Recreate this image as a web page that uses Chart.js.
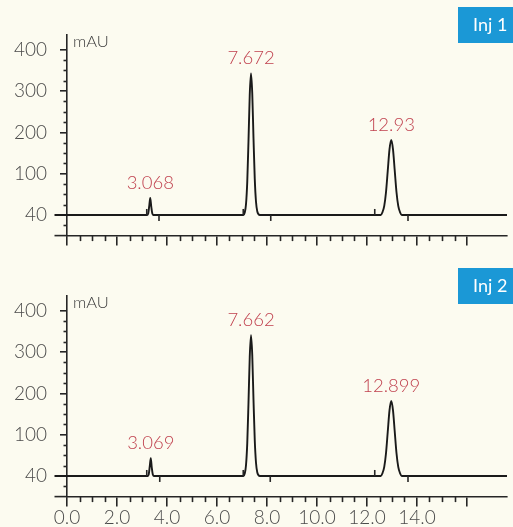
<!DOCTYPE html>
<html><head><meta charset="utf-8">
<script src="https://cdn.jsdelivr.net/npm/chart.js@4"></script>
<style>
html,body{margin:0;padding:0;background:#fcfbf0;width:513px;height:527px;overflow:hidden}
canvas{position:absolute;left:0}
</style></head><body>
<canvas id="c1" width="513" height="261" style="top:0"></canvas>
<canvas id="c2" width="513" height="266" style="top:261px"></canvas>
<script>
// ---- data ----
const xTickValues = [0, 2, 4, 6, 8, 10, 12, 14, 16];
const xTickLabels = ['0.0', '2.0', '4.0', '6.0', '8.0', '10.0', '12.0', '14.0', ''];
const yTickValues = [0, 100, 200, 300, 400];
const yTickLabels = ['40', '100', '200', '300', '400'];

// Injection 1 trace (time, min ; signal, mAU above baseline)
const inj1Time = [-0.5, 3.21, 3.25, 3.29, 3.33, 3.37, 3.41, 3.45,
  7.06, 7.11, 7.16, 7.21, 7.26, 7.31, 7.36, 7.41, 7.46, 7.51, 7.56, 7.61, 7.66, 7.71,
  12.55, 12.62, 12.69, 12.76, 12.83, 12.90, 12.97, 13.04, 13.11, 13.18, 13.25, 13.32, 13.39, 17.6];
const inj1Signal = [0, 0, 4, 22, 41, 20, 4, 0,
  0, 6, 26, 80, 180, 292, 343, 295, 186, 88, 32, 9, 2, 0,
  0, 7, 22, 55, 107, 159, 182, 159, 107, 55, 22, 7, 0, 0];
const inj1StartMarks = [3.19, 7.05, 12.31];
const inj1EndMarks = [3.68, 8.15, 13.64];
const inj1PeakTimes = [3.33, 7.36, 12.97];
const inj1PeakLabels = ['3.068', '7.672', '12.93'];

// Injection 2 trace
const inj2Time = [-0.5, 3.23, 3.27, 3.31, 3.35, 3.39, 3.43, 3.47,
  7.06, 7.11, 7.16, 7.21, 7.26, 7.31, 7.36, 7.41, 7.46, 7.51, 7.56, 7.61, 7.66, 7.71,
  12.55, 12.62, 12.69, 12.76, 12.83, 12.90, 12.97, 13.04, 13.11, 13.18, 13.25, 13.32, 13.39, 17.6];
const inj2Signal = [0, 0, 4, 23, 43, 21, 4, 0,
  0, 6, 26, 79, 178, 289, 341, 293, 184, 87, 32, 9, 2, 0,
  0, 7, 22, 55, 107, 159, 182, 159, 107, 55, 22, 7, 0, 0];
const inj2StartMarks = [3.19, 7.05, 12.31];
const inj2EndMarks = [3.71, 8.13, 13.64];
const inj2PeakTimes = [3.35, 7.36, 12.97];
const inj2PeakLabels = ['3.069', '7.662', '12.899'];

// ---- drawing ----
const AXIS = '#262626';
const FONT = 'Lato, "Open Sans", sans-serif';

function makeChart(id, times, signal, startMarks, endMarks, peakTimes, peakLabels, badgeText, showXLabels) {
  const canvas = document.getElementById(id);
  const H = canvas.height;
  const deco = {
    id: 'deco' + id,
    afterDraw(chart) {
      const ctx = chart.ctx, xs = chart.scales.x, ys = chart.scales.y, ca = chart.chartArea;
      ctx.save();
      ctx.strokeStyle = AXIS; ctx.lineWidth = 1.6; ctx.lineCap = 'butt';
      const axisY = ys.getPixelForValue(ys.min);
      const axisX = xs.getPixelForValue(0);
      // extension of x axis to the left of the y axis
      ctx.beginPath(); ctx.moveTo(xs.getPixelForValue(-0.5), axisY); ctx.lineTo(axisX, axisY); ctx.stroke();
      // minor x ticks
      for (let v = 0.5; v < 16; v += 0.5) {
        if (v % 2 === 0) continue;
        const px = Math.round(xs.getPixelForValue(v)) + 0.5;
        ctx.beginPath(); ctx.moveTo(px, axisY); ctx.lineTo(px, axisY + 5.5); ctx.stroke();
      }
      // minor y ticks
      for (let v = -25; v < 400; v += 25) {
        if (v % 100 === 0) continue;
        const py = Math.round(ys.getPixelForValue(v)) + 0.5;
        ctx.beginPath(); ctx.moveTo(axisX - 3.5, py); ctx.lineTo(axisX, py); ctx.stroke();
      }
      // integration event marks
      const base = ys.getPixelForValue(0);
      startMarks.forEach(t => { const px = xs.getPixelForValue(t);
        ctx.beginPath(); ctx.moveTo(px, base); ctx.lineTo(px, base - 6); ctx.stroke(); });
      endMarks.forEach(t => { const px = xs.getPixelForValue(t);
        ctx.beginPath(); ctx.moveTo(px, base); ctx.lineTo(px, base + 6); ctx.stroke(); });
      // peak labels
      ctx.fillStyle = '#c0424f'; ctx.font = '300 18.5px ' + FONT; ctx.textAlign = 'center'; ctx.textBaseline = 'middle';
      peakTimes.forEach((t, i) => {
        const idx = times.indexOf(t);
        ctx.fillText(peakLabels[i], xs.getPixelForValue(t), ys.getPixelForValue(signal[idx]) - 15);
      });
      // unit label
      ctx.fillStyle = '#3a3a3a'; ctx.font = '300 16.5px ' + FONT; ctx.textAlign = 'left';
      ctx.fillText('mAU', axisX + 6, ca.top + 7);
      // injection badge
      ctx.fillStyle = '#1b98d6'; ctx.fillRect(458, 7, 60, 36);
      ctx.fillStyle = '#ffffff'; ctx.font = '18px ' + FONT; ctx.textAlign = 'left';
      ctx.fillText(badgeText, 473, 25);
      ctx.restore();
    }
  };
  return new Chart(canvas, {
    type: 'line',
    data: { datasets: [{
      data: times.map((t, i) => ({ x: t, y: signal[i] })),
      borderColor: '#1a1a1a', borderWidth: 1.9, pointRadius: 0,
      cubicInterpolationMode: 'monotone', clip: false, fill: false
    }] },
    options: {
      responsive: false, animation: false,
      layout: { padding: { top: 35, right: 6, left: 0, bottom: 0 } },
      plugins: { legend: { display: false }, tooltip: { enabled: false } },
      scales: {
        x: {
          type: 'linear', min: 0, max: 17.6, position: 'bottom',
          afterBuildTicks: s => { s.ticks = xTickValues.map(v => ({ value: v })); },
          afterFit: s => { s.height = H - 235.6; },
          grid: { drawOnChartArea: false, drawTicks: true, tickLength: 10, color: AXIS, lineWidth: 1.6 },
          border: { color: AXIS, width: 1.6 },
          ticks: { display: showXLabels, autoSkip: false, maxRotation: 0, padding: 0,
            font: { family: FONT, size: 19, weight: 300 }, color: '#4a4a4a',
            callback: v => { const i = xTickValues.indexOf(v); return i >= 0 ? xTickLabels[i] : ''; } }
        },
        y: {
          type: 'linear', min: -50, max: 436, position: 'left',
          afterBuildTicks: s => { s.ticks = yTickValues.map(v => ({ value: v })); },
          afterFit: s => { s.width = 67; },
          grid: { drawOnChartArea: false, drawTicks: true, tickLength: 7, color: AXIS, lineWidth: 1.6 },
          border: { color: AXIS, width: 1.6 },
          ticks: { padding: 13, font: { family: FONT, size: 19, weight: 300 }, color: '#4a4a4a',
            callback: v => { const i = yTickValues.indexOf(v); return i >= 0 ? yTickLabels[i] : ''; } }
        }
      }
    },
    plugins: [deco]
  });
}

makeChart('c1', inj1Time, inj1Signal, inj1StartMarks, inj1EndMarks, inj1PeakTimes, inj1PeakLabels, 'Inj 1', false);
makeChart('c2', inj2Time, inj2Signal, inj2StartMarks, inj2EndMarks, inj2PeakTimes, inj2PeakLabels, 'Inj 2', true);
</script>
</body></html>
